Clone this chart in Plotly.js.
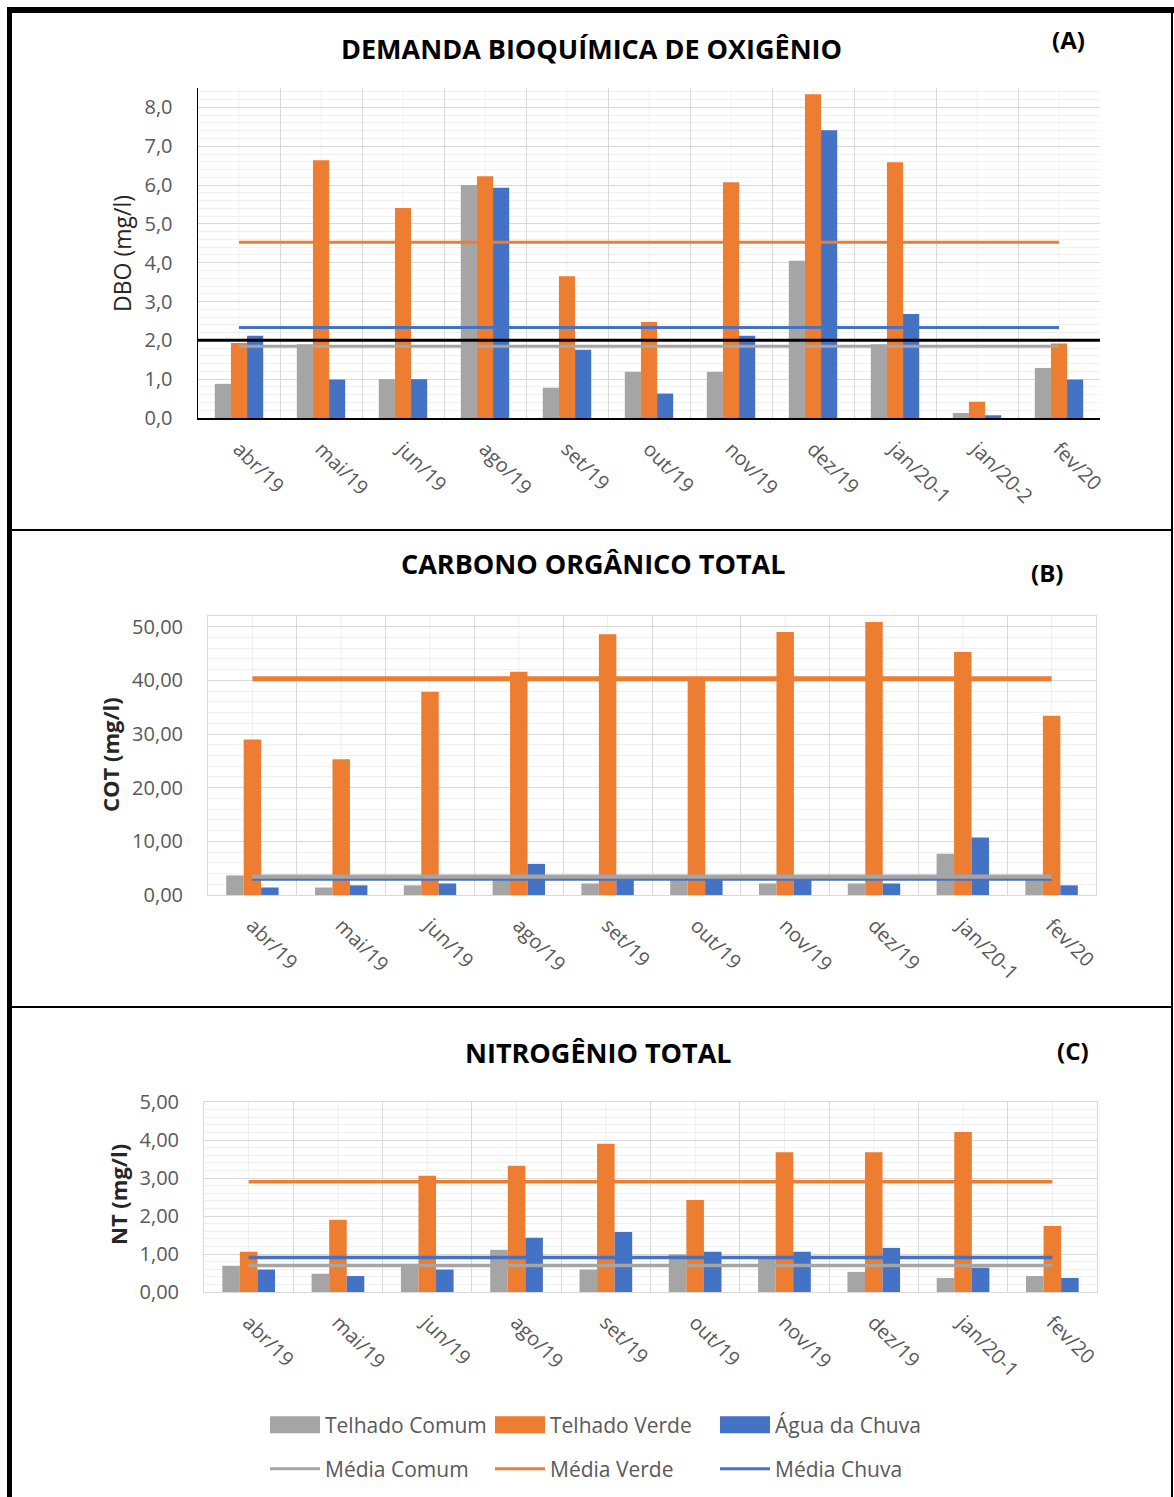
<!DOCTYPE html>
<html>
<head>
<meta charset="utf-8">
<script src="https://cdn.plot.ly/plotly-3.0.1.min.js"></script>
<style>
  html, body { margin: 0; padding: 0; background: #ffffff; }
  #grafico { width: 1174px; height: 1497px; }
</style>
</head>
<body>
<div id="grafico"></div>
<script>
// Campanhas de coleta
const mesesDBO = ['abr/19', 'mai/19', 'jun/19', 'ago/19', 'set/19', 'out/19', 'nov/19', 'dez/19', 'jan/20-1', 'jan/20-2', 'fev/20'];
const mesesCOT = ['abr/19', 'mai/19', 'jun/19', 'ago/19', 'set/19', 'out/19', 'nov/19', 'dez/19', 'jan/20-1', 'fev/20'];
const mesesNT = ['abr/19', 'mai/19', 'jun/19', 'ago/19', 'set/19', 'out/19', 'nov/19', 'dez/19', 'jan/20-1', 'fev/20'];

// (A) Demanda bioquímica de oxigênio, mg/l
const dboComum = [0.88, 1.90, 1.00, 6.00, 0.78, 1.19, 1.19, 4.05, 1.90, 0.13, 1.29];
const dboVerde = [1.93, 6.64, 5.41, 6.23, 3.65, 2.47, 6.07, 8.34, 6.59, 0.42, 1.92];
const dboChuva = [2.12, 0.99, 1.00, 5.93, 1.76, 0.63, 2.12, 7.41, 2.68, 0.07, 0.99];
const dboMedias = [1.85, 4.53, 2.33];   // comum, verde, chuva
const dboLimite = 2.0;

// (B) Carbono orgânico total, mg/l
const cotComum = [3.65, 1.40, 1.80, 3.00, 2.15, 3.00, 2.15, 2.15, 7.70, 3.00];
const cotVerde = [29.0, 25.3, 37.9, 41.6, 48.6, 40.3, 49.0, 50.9, 45.3, 33.4];
const cotChuva = [1.40, 1.80, 2.15, 5.80, 2.80, 2.80, 2.80, 2.15, 10.70, 1.80];
const cotMedias = [3.35, 40.3, 2.85];

// (C) Nitrogênio total, mg/l
const ntComum = [0.69, 0.48, 0.74, 1.11, 0.59, 0.99, 0.88, 0.53, 0.37, 0.42];
const ntVerde = [1.06, 1.90, 3.06, 3.32, 3.90, 2.42, 3.68, 3.68, 4.21, 1.74];
const ntChuva = [0.59, 0.42, 0.59, 1.43, 1.58, 1.06, 1.06, 1.16, 0.64, 0.37];
const ntMedias = [0.70, 2.90, 0.91];

const nomesBarras = ['Telhado Comum', 'Telhado Verde', 'Água da Chuva'];
const nomesMedias = ['Média Comum', 'Média Verde', 'Média Chuva'];

// ---- aparência ----
const W = 1174, H = 1497;
const CORES = ['#A5A5A5', '#ED7D31', '#4472C4'];
const FONTE = '"Open Sans", "Noto Sans", sans-serif';
const CINZA_TEXTO = '#595959';
const fx = px => px / W;
const fy = py => 1 - py / H;

const traces = [];
function painel(xa, ya, cats, series, medias, larguraMedia, legenda) {
  series.forEach((vals, i) => {
    traces.push({
      type: 'bar', x: cats, y: vals, name: nomesBarras[i],
      xaxis: xa, yaxis: ya, marker: { color: CORES[i], line: { width: 0 } },
      showlegend: legenda, legend: 'legend', hoverinfo: 'x+y'
    });
  });
  medias.forEach((m, i) => {
    traces.push({
      type: 'scatter', mode: 'lines', x: [cats[0], cats[cats.length - 1]], y: [m, m],
      name: nomesMedias[i], xaxis: xa, yaxis: ya,
      line: { color: CORES[i], width: larguraMedia[i] },
      showlegend: legenda, legend: 'legend2', hoverinfo: 'y'
    });
  });
}
painel('x', 'y', mesesDBO, [dboComum, dboVerde, dboChuva], dboMedias, [3, 3, 3], true);
painel('x2', 'y2', mesesCOT, [cotComum, cotVerde, cotChuva], cotMedias, [5, 5, 2], false);
painel('x3', 'y3', mesesNT, [ntComum, ntVerde, ntChuva], ntMedias, [3.5, 3.5, 3.5], false);

const fonteTick = { family: FONTE, size: 20, color: CINZA_TEXTO };

function eixoX(dom, anchor, n, escuro) {
  return {
    domain: dom, anchor: anchor, type: 'category', range: [-0.5, n - 0.5],
    tickson: 'boundaries', ticks: '', tickangle: 45, tickfont: fonteTick,
    ticklabelstandoff: 10,
    showgrid: true, gridcolor: '#d9d9d9', gridwidth: 1,
    showline: true, linecolor: escuro ? '#000000' : '#d9d9d9', linewidth: escuro ? 1.5 : 1,
    mirror: !escuro, zeroline: false, fixedrange: true
  };
}
function eixoY(dom, anchor, faixa, passo, menor, formato, escuro) {
  return {
    domain: dom, anchor: anchor, range: faixa, tick0: 0, dtick: passo,
    tickformat: formato, ticks: '', tickfont: fonteTick, ticklabelstandoff: 20,
    showgrid: true, gridcolor: '#d9d9d9', gridwidth: 1,
    minor: { dtick: menor, tick0: 0, showgrid: true, gridcolor: '#f0f0f0', gridwidth: 1 },
    showline: true, linecolor: escuro ? '#000000' : '#d9d9d9', linewidth: escuro ? 1.5 : 1,
    mirror: !escuro, zeroline: false, fixedrange: true
  };
}

// linhas verticais suaves no centro de cada categoria
const shapes = [];
[['x', mesesDBO], ['x2', mesesCOT], ['x3', mesesNT]].forEach(([xa, cats]) => {
  const ya = xa.replace('x', 'y');
  cats.forEach(c => shapes.push({
    type: 'line', xref: xa, yref: ya + ' domain', x0: c, x1: c, y0: 0, y1: 1,
    line: { color: '#efefef', width: 1 }, layer: 'below'
  }));
});
// limite de referência da DBO
shapes.push({
  type: 'line', xref: 'x domain', yref: 'y', x0: 0, x1: 1, y0: dboLimite, y1: dboLimite,
  line: { color: '#000000', width: 3 }, layer: 'above'
});
// moldura da figura e divisões entre os painéis
const moldura = { type: 'rect', xref: 'paper', yref: 'paper', layer: 'above', line: { width: 0 }, fillcolor: '#000000' };
shapes.push(Object.assign({}, moldura, { x0: fx(7), x1: fx(12), y0: fy(H), y1: fy(7) }));
shapes.push(Object.assign({}, moldura, { x0: fx(7), x1: fx(W), y0: fy(13), y1: fy(7) }));
shapes.push(Object.assign({}, moldura, { x0: fx(1171), x1: fx(1173), y0: fy(H), y1: fy(7) }));
shapes.push(Object.assign({}, moldura, { x0: fx(12), x1: fx(1172), y0: fy(531), y1: fy(529) }));
shapes.push(Object.assign({}, moldura, { x0: fx(12), x1: fx(1172), y0: fy(1008), y1: fy(1006) }));

function texto(t, px, py, tamanho, negrito, angulo) {
  return {
    xref: 'paper', yref: 'paper', x: fx(px), y: fy(py), xanchor: 'center', yanchor: 'middle',
    text: negrito ? '<b>' + t + '</b>' : t, showarrow: false, textangle: angulo || 0,
    font: { family: FONTE, size: tamanho, color: angulo ? '#262626' : '#000000' }
  };
}
const annotations = [
  texto('DEMANDA BIOQUÍMICA DE OXIGÊNIO', 591, 49, 27, true),
  texto('(A)', 1068, 40, 24, true),
  texto('CARBONO ORGÂNICO TOTAL', 593, 563, 27, true),
  texto('(B)', 1047, 572, 24, true),
  texto('NITROGÊNIO TOTAL', 598, 1052, 27, true),
  texto('(C)', 1073, 1050, 24, true),
  texto('DBO (mg/l)', 122, 254, 23, false, -90),
  texto('COT (mg/l)', 110, 755, 22, true, -90),
  texto('NT (mg/l)', 118, 1195, 22, true, -90)
];

const legendaBase = {
  orientation: 'h', xanchor: 'left', yanchor: 'middle', x: fx(265),
  font: { family: FONTE, size: 21, color: CINZA_TEXTO },
  itemwidth: 50, entrywidth: 160, bgcolor: 'rgba(0,0,0,0)', traceorder: 'normal'
};

const layout = {
  width: W, height: H,
  margin: { l: 0, r: 0, t: 0, b: 0 },
  paper_bgcolor: '#ffffff', plot_bgcolor: '#ffffff',
  font: { family: FONTE, color: CINZA_TEXTO },
  separators: ',.',
  barmode: 'group', bargap: 0.41, bargroupgap: 0,
  xaxis: eixoX([fx(198), fx(1100)], 'y', mesesDBO.length, true),
  yaxis: eixoY([fy(418), fy(88)], 'x', [0, 8.5], 1, 0.2, '.1f', true),
  xaxis2: eixoX([fx(208), fx(1096)], 'y2', mesesCOT.length, false),
  yaxis2: eixoY([fy(895), fy(616)], 'x2', [0, 52], 10, 2, '.2f', false),
  xaxis3: eixoX([fx(204), fx(1097)], 'y3', mesesNT.length, false),
  yaxis3: eixoY([fy(1292), fy(1102)], 'x3', [0, 5], 1, 0.2, '.2f', false),
  legend: Object.assign({}, legendaBase, { y: fy(1425) }),
  legend2: Object.assign({}, legendaBase, { y: fy(1469) }),
  shapes: shapes,
  annotations: annotations,
  showlegend: true
};

Plotly.newPlot('grafico', traces, layout, { displayModeBar: false, staticPlot: true }).then(gd => {
  // amostras das barras na legenda como retângulos largos, do mesmo tamanho dos traços das médias
  gd.querySelectorAll('g.legend g.legendpoints path').forEach(p => {
    p.setAttribute('d', 'M25,8.5H-25V-8.5H25Z');
  });
});
</script>
</body>
</html>
